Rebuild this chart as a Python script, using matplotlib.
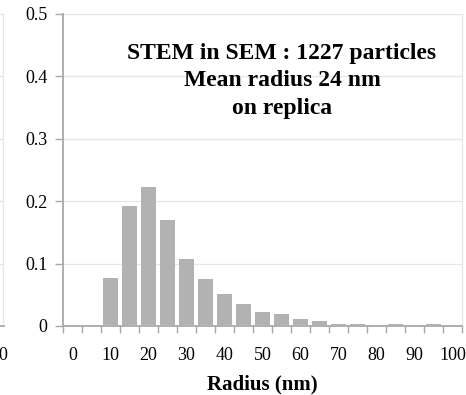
import matplotlib
matplotlib.use("Agg")
import matplotlib.pyplot as plt
from matplotlib.lines import Line2D
import numpy as np

plt.rcParams['font.family'] = ['Liberation Serif', 'DejaVu Serif']

radius_bins = [0, 5, 10, 15, 20, 25, 30, 35, 40, 45, 50, 55, 60, 65, 70, 75, 80, 85, 90, 95, 100]
fraction = [0, 0, 0.077, 0.193, 0.223, 0.170, 0.107, 0.076, 0.052, 0.035, 0.023, 0.020,
            0.011, 0.0085, 0.004, 0.004, 0, 0.004, 0, 0.004, 0]
y_ticks = [0, 0.1, 0.2, 0.3, 0.4, 0.5]
y_tick_labels = ['0', '0.1', '0.2', '0.3', '0.4', '0.5']
annotation = "STEM in SEM : 1227 particles\nMean radius 24 nm\non replica"
x_label = "Radius (nm)"

W, H = 466, 395
fig = plt.figure(figsize=(W / 100, H / 100), dpi=100)
ax = fig.add_axes([63 / W, 1 - 326 / H, (462 - 63) / W, (326 - 14) / H])

idx = np.arange(len(radius_bins))
ax.bar(idx, fraction, width=0.78, color='#b2b2b2', zorder=3)

ax.set_xlim(-0.5, len(radius_bins) - 0.5)
ax.set_ylim(0, 0.5)
ax.set_yticks(y_ticks)
ax.set_yticklabels(y_tick_labels, fontsize=13)
ax.yaxis.grid(True, color='#e6e6e6', linewidth=0.9, zorder=0)

major = idx[::2]
ax.set_xticks(major)
ax.set_xticklabels([str(radius_bins[i]) for i in major], fontsize=13)
ax.set_xticks(np.arange(-0.5, len(radius_bins) + 0.5, 1), minor=True)
ax.tick_params(axis='x', which='major', length=0, pad=15)
ax.tick_params(axis='x', which='minor', length=5, width=1, color='#a8a8a8', direction='out')
ax.tick_params(axis='y', length=6, width=1, color='#a8a8a8', pad=5)

for s in ['left', 'bottom']:
    ax.spines[s].set_color('#a8a8a8')
    ax.spines[s].set_linewidth(1.3)
ax.spines['top'].set_visible(False)
ax.spines['right'].set_color('#e6e6e6')
ax.spines['right'].set_linewidth(0.9)

ax.set_xlabel(x_label, fontsize=15, fontweight='bold', labelpad=8)

fig.text(282 / W, 1 - 81 / H, annotation, ha='center', va='center',
         fontsize=17, fontweight='bold', linespacing=1.4)

# cropped neighbouring chart at the left edge
fig.add_artist(Line2D([3 / W, 3 / W], [1 - 14 / H, 1 - 326 / H], color='#e6e6e6', lw=0.9,
                      transform=fig.transFigure))
for yy in [14, 76.4, 138.8, 201.2, 263.6]:
    fig.add_artist(Line2D([0, 3 / W], [1 - yy / H, 1 - yy / H], color='#e6e6e6', lw=0.9,
                          transform=fig.transFigure))
fig.add_artist(Line2D([0, 4 / W], [1 - 326 / H, 1 - 326 / H], color='#a8a8a8', lw=1.3,
                      transform=fig.transFigure))
fig.text(8 / W, 1 - 355 / H, "100", ha='right', va='center', fontsize=13)

fig.savefig("out.png", dpi=100)
